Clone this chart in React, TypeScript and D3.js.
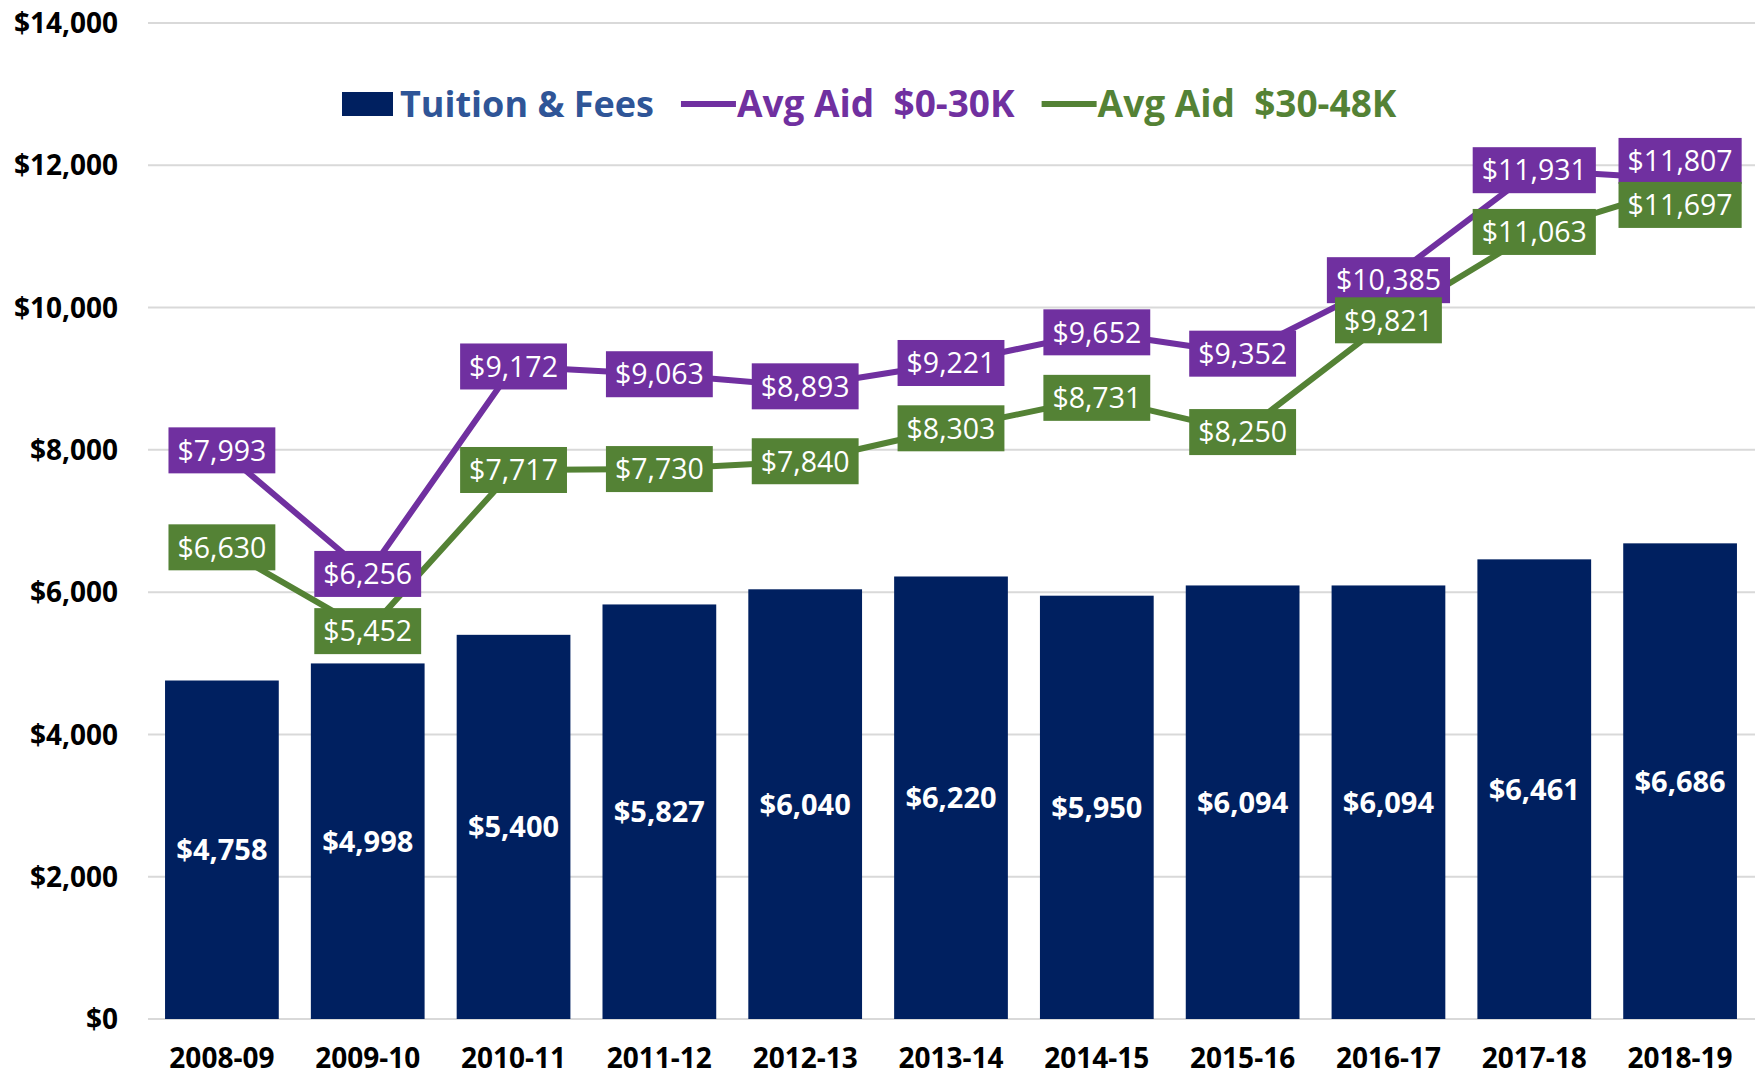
import { useEffect, useRef } from 'react';
import * as d3 from 'd3';

const years = ['2008-09', '2009-10', '2010-11', '2011-12', '2012-13', '2013-14', '2014-15', '2015-16', '2016-17', '2017-18', '2018-19'];
const tuition = [4758, 4998, 5400, 5827, 6040, 6220, 5950, 6094, 6094, 6461, 6686];
const aidLow = [7993, 6256, 9172, 9063, 8893, 9221, 9652, 9352, 10385, 11931, 11807];
const aidMid = [6630, 5452, 7717, 7730, 7840, 8303, 8731, 8250, 9821, 11063, 11697];
const yTicks = [0, 2000, 4000, 6000, 8000, 10000, 12000, 14000];

const W = 1758;
const H = 1078;
const FONT = "'Open Sans', 'Noto Sans', sans-serif";
const NAVY = '#002060';
const PURPLE = '#7030A0';
const GREEN = '#548235';

const fmt = (v: number) => '$' + d3.format(',')(v);

export default function App() {
  const svgRef = useRef<SVGSVGElement>(null);

  useEffect(() => {
    const svg = d3.select(svgRef.current);
    svg.selectAll('*').remove();

    const x = d3.scaleBand().domain(years).range([149, 1753]).paddingInner(0.22).paddingOuter(0.11);
    const y = d3.scaleLinear().domain([0, 14000]).range([1019, 23]);
    const cx = (i: number) => (x(years[i]) as number) + x.bandwidth() / 2;

    // grid
    svg.append('g')
      .selectAll('line')
      .data(yTicks)
      .join('line')
      .attr('x1', 148)
      .attr('x2', 1755)
      .attr('y1', d => y(d))
      .attr('y2', d => y(d))
      .attr('stroke', '#D9D9D9')
      .attr('stroke-width', 2);

    // y labels
    svg.append('g')
      .selectAll('text')
      .data(yTicks)
      .join('text')
      .attr('x', 118)
      .attr('y', d => y(d))
      .attr('dy', '0.36em')
      .attr('text-anchor', 'end')
      .attr('font-family', FONT)
      .attr('font-weight', 'bold')
      .attr('font-size', 28)
      .attr('fill', '#000')
      .text(d => fmt(d));

    // x labels
    svg.append('g')
      .selectAll('text')
      .data(years)
      .join('text')
      .attr('x', d => (x(d) as number) + x.bandwidth() / 2)
      .attr('y', 1068)
      .attr('text-anchor', 'middle')
      .attr('font-family', FONT)
      .attr('font-weight', 'bold')
      .attr('font-size', 28)
      .attr('fill', '#000')
      .text(d => d);

    // bars
    svg.append('g')
      .selectAll('rect')
      .data(tuition)
      .join('rect')
      .attr('x', (d, i) => x(years[i]) as number)
      .attr('width', x.bandwidth())
      .attr('y', d => y(d))
      .attr('height', d => y(0) - y(d))
      .attr('fill', NAVY);

    svg.append('g')
      .selectAll('text')
      .data(tuition)
      .join('text')
      .attr('x', (d, i) => cx(i))
      .attr('y', d => (y(d) + y(0)) / 2)
      .attr('dy', '0.36em')
      .attr('text-anchor', 'middle')
      .attr('font-family', FONT)
      .attr('font-weight', 'bold')
      .attr('font-size', 29)
      .attr('fill', '#fff')
      .text(d => fmt(d));

    // lines
    const line = d3.line<number>().x((d, i) => cx(i)).y(d => y(d));
    [[aidLow, PURPLE], [aidMid, GREEN]].forEach(([vals, col]) => {
      svg.append('path')
        .datum(vals as number[])
        .attr('d', line)
        .attr('fill', 'none')
        .attr('stroke', col as string)
        .attr('stroke-width', 6)
        .attr('stroke-linejoin', 'round');
    });

    // label positions, pushed apart where the two labels nearly coincide
    const labY = (vals: number[], other: number[], dir: number) =>
      vals.map((v, i) => {
        const a = y(v);
        const b = y(other[i]);
        if (Math.abs(a - b) < 25) return (a + b) / 2 + dir * 22;
        return a;
      });
    const lowY = labY(aidLow, aidMid, -1);
    const midY = labY(aidMid, aidLow, 1);

    const drawLabels = (vals: number[], ys: number[], col: string) => {
      const g = svg.append('g');
      vals.forEach((v, i) => {
        const grp = g.append('g');
        const rect = grp.append('rect').attr('fill', col);
        const t = grp.append('text')
          .attr('x', cx(i))
          .attr('y', ys[i])
          .attr('dy', '0.36em')
          .attr('text-anchor', 'middle')
          .attr('font-family', FONT)
          .attr('font-size', 28.5)
          .attr('fill', '#fff')
          .text(fmt(v));
        const w = (t.node() as SVGTextElement).getComputedTextLength() + 18;
        rect.attr('x', cx(i) - w / 2).attr('y', ys[i] - 23).attr('width', w).attr('height', 46);
      });
    };
    drawLabels(aidLow, lowY, PURPLE);
    drawLabels(aidMid, midY, GREEN);

    // legend
    const lg = svg.append('g');
    const LY = 104;
    lg.append('rect').attr('x', 342).attr('y', 92).attr('width', 51).attr('height', 24).attr('fill', NAVY);
    const legText = (xPos: number, col: string, label: string, size: number) => {
      const t = lg.append('text').attr('x', xPos).attr('y', LY).attr('dy', '0.36em')
        .attr('font-family', FONT).attr('font-weight', 'bold').attr('font-size', size)
        .attr('fill', col).style('white-space', 'pre').text(label);
      return xPos + (t.node() as SVGTextElement).getComputedTextLength();
    };
    const legLine = (xPos: number, col: string) => {
      lg.append('line').attr('x1', xPos).attr('x2', xPos + 55).attr('y1', LY).attr('y2', LY)
        .attr('stroke', col).attr('stroke-width', 6);
      return xPos + 56;
    };
    let lx = legText(400, '#2F5597', 'Tuition & Fees', 36);
    lx = legLine(lx + 27, PURPLE);
    lx = legText(lx, PURPLE, 'Avg Aid  $0-30K', 37);
    lx = legLine(lx + 27, GREEN);
    legText(lx, GREEN, 'Avg Aid  $30-48K', 37);
  }, []);

  return (
    <div style={{ position: 'absolute', left: 0, top: 0 }}>
      <svg ref={svgRef} width={W} height={H} style={{ display: 'block', background: '#fff' }}></svg>
    </div>
  );
}
